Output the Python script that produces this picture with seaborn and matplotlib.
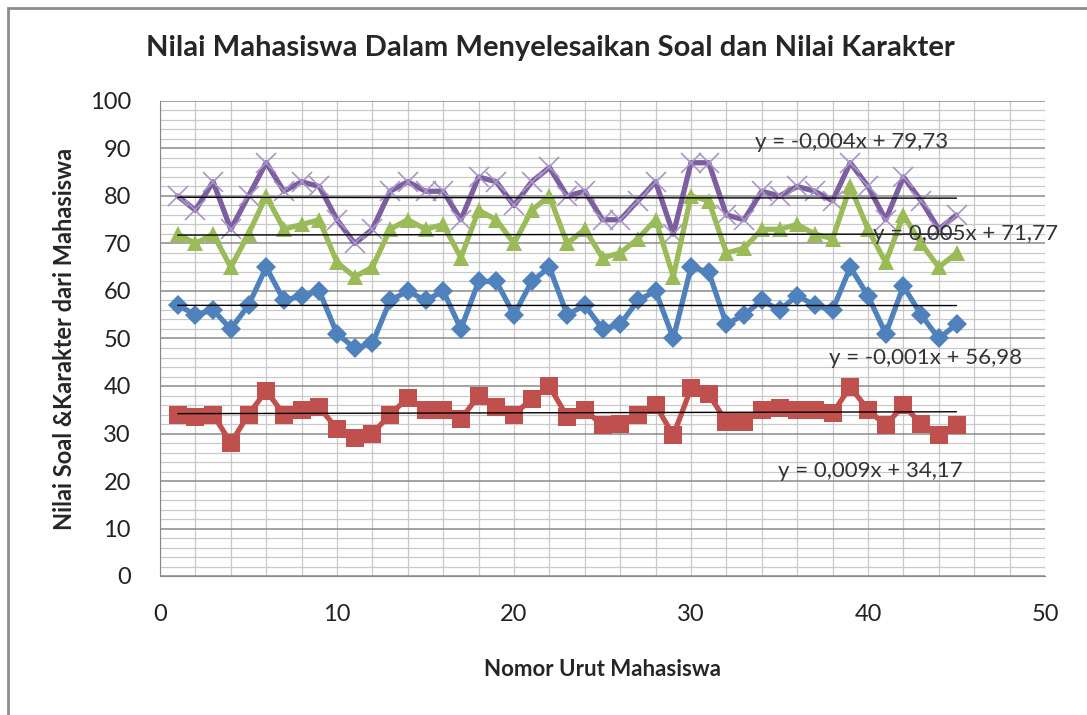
import numpy as np
import pandas as pd
import seaborn as sns
import matplotlib.pyplot as plt
from matplotlib.patches import Rectangle
from matplotlib.ticker import MultipleLocator

# nomor urut mahasiswa 1..45
nomor = list(range(1, 46))

nilai_ungu = [80, 77, 83, 73, 80, 87, 81, 83, 82, 75,
              70, 73, 81, 83, 81, 81, 75, 84, 83, 78,
              83, 86, 80, 81, 75, 75, 79, 83, 72, 87,
              87, 76, 75, 81, 80, 82, 81, 79, 87, 82,
              75, 84, 79, 73, 76]
nilai_hijau = [72, 70, 72, 65, 72, 80, 73, 74, 75, 66,
               63, 65, 73, 75, 73, 74, 67, 77, 75, 70,
               77, 80, 70, 73, 67, 68, 71, 75, 63, 80,
               79, 68, 69, 73, 73, 74, 72, 71, 82, 73,
               66, 76, 70, 65, 68]
nilai_biru = [57, 55, 56, 52, 57, 65, 58, 59, 60, 51,
              48, 49, 58, 60, 58, 60, 52, 62, 62, 55,
              62, 65, 55, 57, 52, 53, 58, 60, 50, 65,
              64, 53, 55, 58, 56, 59, 57, 56, 65, 59,
              51, 61, 55, 50, 53]
nilai_merah = [34, 33.5, 34, 28, 34, 39, 34, 35, 35.5, 31,
               29, 30, 34, 37.5, 35, 35, 33, 38, 35.5, 34,
               37.3, 40, 33.5, 35, 31.7, 32, 34, 36, 29.6, 39.5,
               38.3, 32.4, 32.4, 35, 35.3, 35, 35, 34.3, 39.8, 35,
               31.7, 36, 32, 29.6, 31.7]

# trendline: slope, intercept, label
tren = [(-0.004, 79.73, "y = -0,004x + 79,73"),
        (0.005, 71.77, "y = 0,005x + 71,77"),
        (-0.001, 56.98, "y = -0,001x + 56,98"),
        (0.009, 34.17, "y = 0,009x + 34,17")]
label_pos = [(33.6, 91.4), (40.3, 72.0), (37.8, 45.9), (34.9, 22.1)]

sns.set_style("white")
plt.rcParams['font.family'] = ['Lato', 'DejaVu Sans']

fig = plt.figure(figsize=(10.87, 7.15), dpi=100)
ax = fig.add_axes([160 / 1087, 139 / 715, 885 / 1087, 475 / 715])

# grid
ax.xaxis.set_minor_locator(MultipleLocator(2))
ax.yaxis.set_minor_locator(MultipleLocator(2))
ax.grid(which='minor', color='#c8c8c8', linewidth=0.9)
ax.grid(which='major', axis='y', color='#8a8a8a', linewidth=1.1)
ax.grid(which='major', axis='x', color='#c8c8c8', linewidth=0.9)
ax.set_axisbelow(True)

series = [
    (nilai_ungu, '#7d5fa0', 'x', 14, '#a896c8'),
    (nilai_hijau, '#9bbb59', '^', 12, '#9bbb59'),
    (nilai_biru, '#4f81bd', 'D', 10, '#4f81bd'),
    (nilai_merah, '#c0504d', 's', 13, '#c0504d'),
]
for vals, col, mk, ms, mcol in series:
    sns.lineplot(x=nomor, y=vals, ax=ax, color=col, linewidth=3.8,
                 marker=mk, markersize=ms, markeredgecolor=mcol,
                 markerfacecolor=mcol, markeredgewidth=1.2 if mk == 'x' else 0)

xs = np.array([nomor[0], nomor[-1]])
for (m, b, lab), (lx, ly) in zip(tren, label_pos):
    ax.plot(xs, m * xs + b, color='black', linewidth=1.0)
    ax.text(lx, ly, lab, fontsize=16, va='center', ha='left', color='#333333')

ax.set_xlim(0, 50)
ax.set_ylim(0, 100)
ax.xaxis.set_major_locator(MultipleLocator(10))
ax.yaxis.set_major_locator(MultipleLocator(10))
ax.tick_params(which='major', labelsize=17, length=5, color='#888888', labelcolor='#222222')
ax.tick_params(which='minor', length=0)
ax.tick_params(axis='x', direction='inout', pad=18)
ax.tick_params(axis='y', pad=16)
for s in ['top', 'right']:
    ax.spines[s].set_visible(False)
for s in ['left', 'bottom']:
    ax.spines[s].set_color('#888888')

ax.set_xlabel('Nomor Urut Mahasiswa', fontsize=16, fontweight='bold', labelpad=24)
ax.set_ylabel('Nilai Soal &Karakter dari Mahasiswa', fontsize=17, fontweight='bold', labelpad=10)
fig.text(550 / 1087, 1 - 48 / 715, 'Nilai Mahasiswa Dalam Menyelesaikan Soal dan Nilai Karakter',
         fontsize=21, fontweight='bold', ha='center', va='center')

# chart border (left and top edges visible)
fig.add_artist(Rectangle((8 / 1087, -0.1), 1.2, 1.1 - 8 / 715, transform=fig.transFigure,
                         fill=False, edgecolor='#8c8c8c', linewidth=2))

fig.savefig('out.png', dpi=100)
